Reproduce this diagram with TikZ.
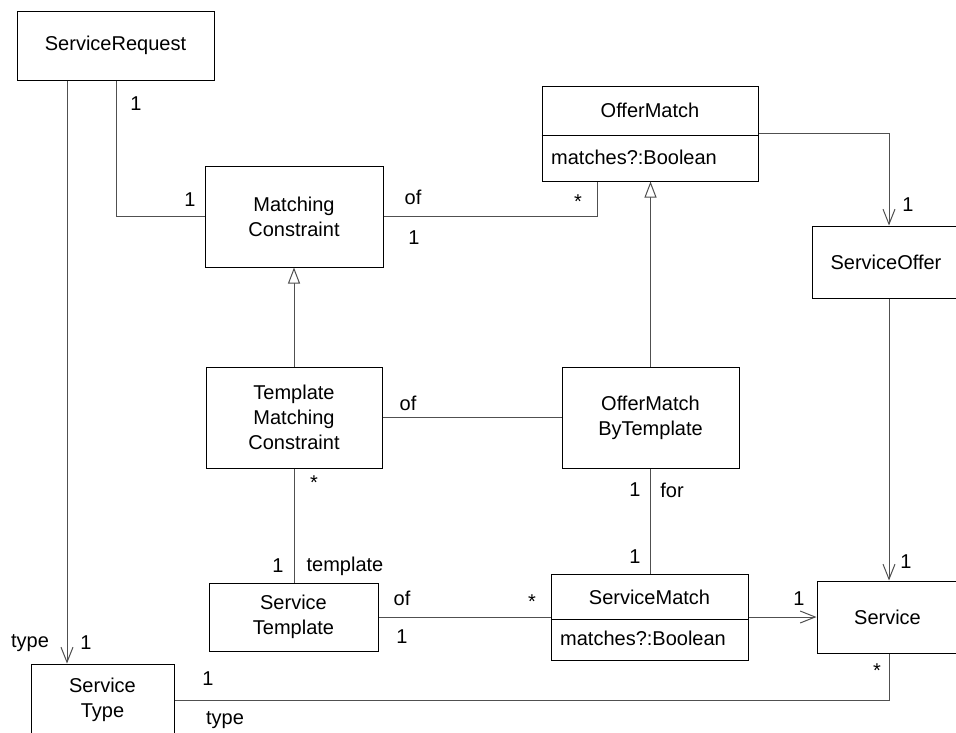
\documentclass[tikz,border=0pt]{standalone}
\usepackage{fontspec}
\setmainfont{Liberation Sans}
\usetikzlibrary{arrows.meta,calc}
\definecolor{linegray}{RGB}{80,80,80}
\begin{document}
\begin{tikzpicture}[x=1pt,y=-1pt,
  box/.style={draw=black, line width=1pt, inner sep=0pt, align=center, font=\fontsize{20}{25}\selectfont},
  lbl/.style={inner sep=0pt, font=\fontsize{20}{24}\selectfont},
  assoc/.style={draw=linegray, line width=1pt},
  nav/.style={assoc, -{Straight Barb[length=15pt,width=12pt]}},
  gen/.style={assoc, -{Triangle[length=16pt,width=12pt,fill=white]}}]
\useasboundingbox (0,0) rectangle (956,732);
\clip (0,0) rectangle (956,732);
% boxes
\node[box, minimum width=197pt, minimum height=69pt] (SR) at (115.5,45.5) {ServiceRequest};
\node[box, minimum width=178pt, minimum height=101pt] (MC) at (294,216.5) {Matching\\Constraint};
\node[box, minimum width=216pt, minimum height=95pt] (OM) at (650,133.5) {};
\coordinate (omdiv) at (0,135);
\draw[black, line width=1pt] (OM.west |- omdiv) -- (OM.east |- omdiv);
\node[lbl] (omname) at (650,110.5) {OfferMatch};
\node[lbl, anchor=west] (omattr) at (551,157) {matches?:Boolean};
\node[box, minimum width=148pt, minimum height=72pt] (SO) at (886,262) {ServiceOffer};
\node[box, minimum width=176pt, minimum height=101pt] (TMC) at (294,417.5) {Template\\Matching\\Constraint};
\node[box, minimum width=177pt, minimum height=101pt] (OMBT) at (650.5,417.5) {OfferMatch\\ByTemplate};
\node[box, minimum width=169pt, minimum height=68pt] (ST) at (293.5,617) {Service\\Template};
\node[box, minimum width=197pt, minimum height=86pt] (SM) at (649.5,617) {};
\coordinate (smdiv) at (0,619);
\draw[black, line width=1pt] (SM.west |- smdiv) -- (SM.east |- smdiv);
\node[lbl] (smname) at (649.5,597) {ServiceMatch};
\node[lbl, anchor=west] (smattr) at (560,638) {matches?:Boolean};
\node[box, minimum width=141pt, minimum height=72pt] (Sv) at (887.5,617) {Service};
\node[box, minimum width=143pt, minimum height=72pt] (STy) at (102.5,700) {Service\\Type};
% helper x positions
\coordinate (xa) at (67,0);
\coordinate (xb) at (116,0);
\coordinate (xc) at (597,0);
\coordinate (xs) at (889,0);
% connectors
\draw[nav] (SR.south -| xa) -- (STy.north -| xa);
\draw[assoc] (SR.south -| xb) |- (MC.west);
\draw[assoc] (MC.east) -| (xc |- OM.south);
\draw[nav] (OM.east) -| (xs |- SO.north);
\draw[nav] (xs |- SO.south) -- (xs |- Sv.north);
\draw[gen] (TMC.north) -- (MC.south);
\draw[gen] (OMBT.north) -- (OMBT.north |- OM.south);
\draw[assoc] (TMC.east) -- (OMBT.west);
\draw[assoc] (TMC.south) -- (TMC.south |- ST.north);
\draw[assoc] (OMBT.south) -- (OMBT.south |- SM.north);
\draw[assoc] (ST.east) -- (SM.west);
\draw[nav] (SM.east) -- (Sv.west);
\draw[assoc] (xs |- Sv.south) |- (STy.east);
% labels
\node[lbl] (l1) at (136,104) {1};
\node[lbl] (l2) at (190,200) {1};
\node[lbl] (l3) at (413,197) {of};
\node[lbl] (l4) at (414,238) {1};
\node[lbl] (l5) at (578,202) {*};
\node[lbl] (l6) at (908,205) {1};
\node[lbl] (l7) at (408,403) {of};
\node[lbl] (l8) at (314,483) {*};
\node[lbl] (l9) at (278,566) {1};
\node[lbl] (l10) at (345,566) {template};
\node[lbl] (l11) at (635,490) {1};
\node[lbl] (l12) at (672,490) {for};
\node[lbl] (l13) at (635,557) {1};
\node[lbl] (l14) at (402,598) {of};
\node[lbl] (l15) at (532,602) {*};
\node[lbl] (l16) at (402,637) {1};
\node[lbl] (l17) at (799,599) {1};
\node[lbl] (l18) at (906,562) {1};
\node[lbl] (l19) at (877,671) {*};
\node[lbl] (l20) at (30,643) {type};
\node[lbl] (l21) at (86,643) {1};
\node[lbl] (l22) at (208,679) {1};
\node[lbl] (l23) at (225,720) {type};
\end{tikzpicture}
\end{document}
